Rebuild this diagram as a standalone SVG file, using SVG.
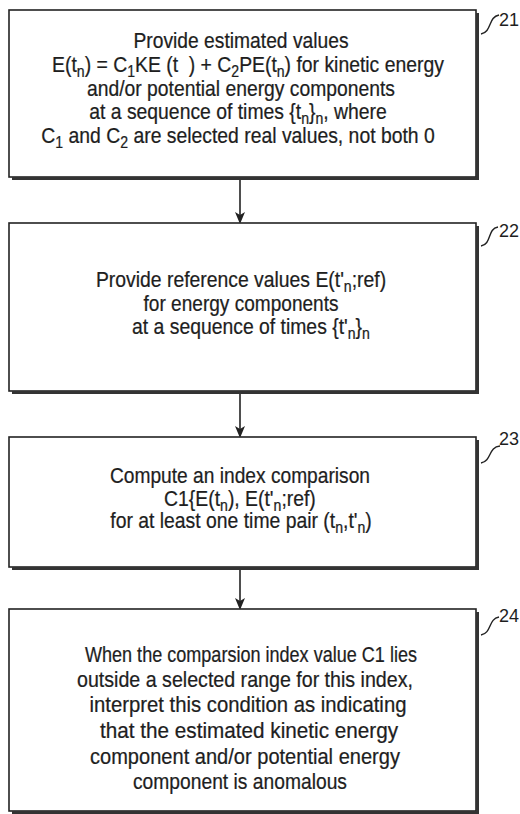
<svg xmlns="http://www.w3.org/2000/svg" width="520" height="814" viewBox="0 0 520 814">
<defs>
<style>
.box{fill:#fff;stroke:#222;stroke-width:1.6}
.shadow{fill:none;stroke:#333;stroke-width:3}
.t{font-family:"Liberation Sans",Arial,sans-serif;font-size:22px;fill:#1e1e1e;stroke:#1e1e1e;stroke-width:0.25;text-anchor:middle}
.lbl{font-family:"Liberation Sans",Arial,sans-serif;font-size:18px;fill:#1e1e1e}
.lead{fill:none;stroke:#222;stroke-width:1.4}
.conn{fill:none;stroke:#222;stroke-width:1.6}
.s{font-size:16px}
</style>
<marker id="ah" markerWidth="12" markerHeight="14" refX="10" refY="5" orient="auto" markerUnits="userSpaceOnUse" viewBox="0 0 12 10">
<path d="M0,0 L12,5 L0,10 L3,5 Z" fill="#222"/>
</marker>
</defs>
<rect width="520" height="814" fill="#fff"/>

<g id="connectors">
<line class="conn" x1="240" y1="179" x2="240" y2="222" marker-end="url(#ah)"/>
<line class="conn" x1="240" y1="393" x2="240" y2="436" marker-end="url(#ah)"/>
<line class="conn" x1="240" y1="569" x2="240" y2="608" marker-end="url(#ah)"/>
</g>

<g id="node21">
<rect class="box" x="9" y="10" width="467" height="167"/>
<polyline class="shadow" points="477.5,13 477.5,178.5 12,178.5"/>
<g transform="scale(0.88,1)">
<text class="t" x="273.9" y="48" textLength="244.3" lengthAdjust="spacingAndGlyphs">Provide estimated values</text>
<text class="t" x="281.8" y="72">E(t<tspan class="s" dy="5">n</tspan><tspan dy="-5">) = C</tspan><tspan class="s" dy="5">1</tspan><tspan dy="-5">KE (t&#160;&#160;) + C</tspan><tspan class="s" dy="5">2</tspan><tspan dy="-5">PE(t</tspan><tspan class="s" dy="5">n</tspan><tspan dy="-5">) for kinetic energy</tspan></text>
<text class="t" x="273.9" y="96" textLength="350" lengthAdjust="spacingAndGlyphs">and/or potential energy components</text>
<text class="t" x="270.5" y="119">at a sequence of times {t<tspan class="s" dy="5">n</tspan><tspan dy="-5">}</tspan><tspan class="s" dy="5">n</tspan><tspan dy="-5">, where</tspan></text>
<text class="t" x="270.5" y="143">C<tspan class="s" dy="5">1</tspan><tspan dy="-5"> and C</tspan><tspan class="s" dy="5">2</tspan><tspan dy="-5"> are selected real values, not both 0</tspan></text>
</g>
<path class="lead" d="M481,34 C492,32 488,17 499,15"/>
<text class="lbl" x="499" y="26">21</text>
</g>

<g id="node22">
<rect class="box" x="9" y="223" width="467" height="168"/>
<polyline class="shadow" points="477.5,226 477.5,392.5 12,392.5"/>
<g transform="scale(0.88,1)">
<text class="t" x="273.9" y="287">Provide reference values E(t'<tspan class="s" dy="5">n</tspan><tspan dy="-5">;ref)</tspan></text>
<text class="t" x="273.9" y="311" textLength="221.6" lengthAdjust="spacingAndGlyphs">for energy components</text>
<text class="t" x="285.2" y="334">at a sequence of times {t'<tspan class="s" dy="5">n</tspan><tspan dy="-5">}</tspan><tspan class="s" dy="5">n</tspan></text>
</g>
<path class="lead" d="M481,246 C492,244 487,229 498,227"/>
<text class="lbl" x="499" y="237">22</text>
</g>

<g id="node23">
<rect class="box" x="9" y="437" width="467" height="130"/>
<polyline class="shadow" points="477.5,440 477.5,568.5 12,568.5"/>
<g transform="scale(0.88,1)">
<text class="t" x="272.7" y="483" textLength="295.5" lengthAdjust="spacingAndGlyphs">Compute an index comparison</text>
<text class="t" x="272.7" y="506">C1{E(t<tspan class="s" dy="5">n</tspan><tspan dy="-5">), E(t'</tspan><tspan class="s" dy="5">n</tspan><tspan dy="-5">;ref)</tspan></text>
<text class="t" x="273.9" y="528">for at least one time pair (t<tspan class="s" dy="5">n</tspan><tspan dy="-5">,t'</tspan><tspan class="s" dy="5">n</tspan><tspan dy="-5">)</tspan></text>
</g>
<path class="lead" d="M481,463 C492,461 488,447 500,446"/>
<text class="lbl" x="499" y="445">23</text>
</g>

<g id="node24">
<rect class="box" x="9" y="609" width="467" height="202"/>
<polyline class="shadow" points="477.5,612 477.5,812.5 12,812.5"/>
<g transform="scale(0.88,1)">
<text class="t" x="285.2" y="662" textLength="377.3" lengthAdjust="spacingAndGlyphs">When the comparsion index value C1 lies</text>
<text class="t" x="278.4" y="687" textLength="381.8" lengthAdjust="spacingAndGlyphs">outside a selected range for this index,</text>
<text class="t" x="281.8" y="712.5" textLength="360.2" lengthAdjust="spacingAndGlyphs">interpret this condition as indicating</text>
<text class="t" x="283" y="738" textLength="338.6" lengthAdjust="spacingAndGlyphs">that the estimated kinetic energy</text>
<text class="t" x="278.4" y="764" textLength="352.3" lengthAdjust="spacingAndGlyphs">component and/or potential energy</text>
<text class="t" x="272.7" y="789" textLength="243.2" lengthAdjust="spacingAndGlyphs">component is anomalous</text>
</g>
<path class="lead" d="M481,635 C492,633 488,619 499,617"/>
<text class="lbl" x="499" y="622">24</text>
</g>
</svg>
